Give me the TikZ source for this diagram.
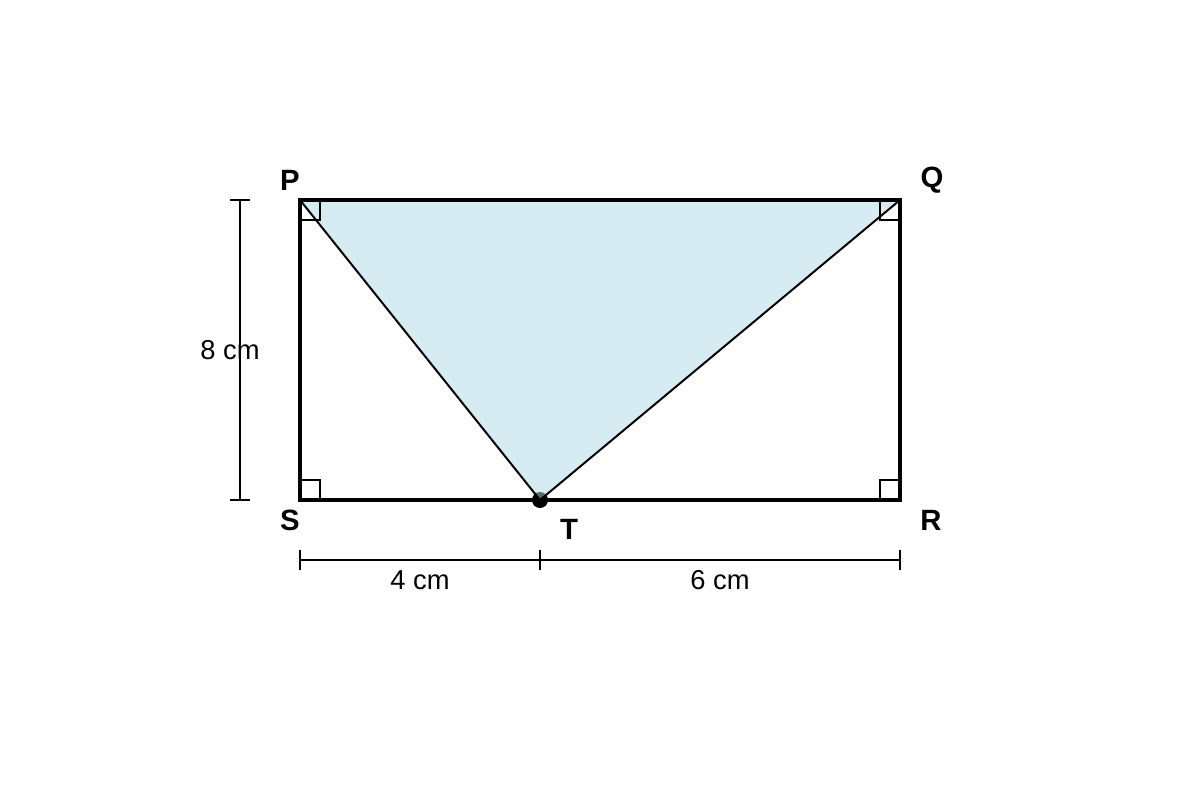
\documentclass[tikz,border=0pt]{standalone}
\usepackage{fontspec}
\setmainfont{Liberation Sans}
\begin{document}
\begin{tikzpicture}[x=0.75pt,y=-0.75pt,
  lbl/.style={font=\fontsize{22pt}{25pt}\selectfont\bfseries, inner sep=0pt},
  dimtxt/.style={font=\fontsize{20.5pt}{23pt}\selectfont, inner sep=0pt},
  rectline/.style={line width=2.4pt},
  triline/.style={line width=1.5pt},
  markline/.style={line width=1.2pt},
  dimline/.style={line width=1.3pt}]
\useasboundingbox (0,0) rectangle (1200,800);
\coordinate (P) at (300,200);
\coordinate (Q) at (900,200);
\coordinate (R) at (900,500);
\coordinate (S) at (300,500);
\coordinate (T) at (540,500);
% dot
\fill (T) circle[radius=8];
% triangle fill
\fill[fill={rgb,255:red,173;green,216;blue,230}, fill opacity=0.5] (P) -- (Q) -- (T) -- cycle;
% rectangle
\draw[rectline] (P) -- (Q) -- (R) -- (S) -- cycle;
% triangle sides
\draw[triline] (P) -- (T) -- (Q);
% right angle marks
\draw[markline] (300,220) -- (320,220) -- (320,200);
\draw[markline] (880,200) -- (880,220) -- (900,220);
\draw[markline] (300,480) -- (320,480) -- (320,500);
\draw[markline] (880,500) -- (880,480) -- (900,480);
% labels
\node[lbl] (lP) at (290,180) {P};
\node[lbl] (lQ) at (932,180) {Q};
\node[lbl] (lS) at (290,520) {S};
\node[lbl] (lR) at (931,520) {R};
\node[lbl] (lT) at (569,529) {T};
% left dimension
\coordinate (d1) at (240,200);
\coordinate (d2) at (240,500);
\draw[dimline] (d1) -- (d2);
\draw[dimline] (230,200) -- (250,200);
\draw[dimline] (230,500) -- (250,500);
\node[dimtxt] (l8) at (230,350) {8 cm};
% bottom dimension
\coordinate (b1) at (300,560);
\coordinate (b2) at (540,560);
\coordinate (b3) at (900,560);
\draw[dimline] (b1) -- (b3);
\draw[dimline] (300,550) -- (300,570);
\draw[dimline] (540,550) -- (540,570);
\draw[dimline] (900,550) -- (900,570);
\node[dimtxt] (l4) at (420,580) {4 cm};
\node[dimtxt] (l6) at (720,580) {6 cm};
\end{tikzpicture}
\end{document}
